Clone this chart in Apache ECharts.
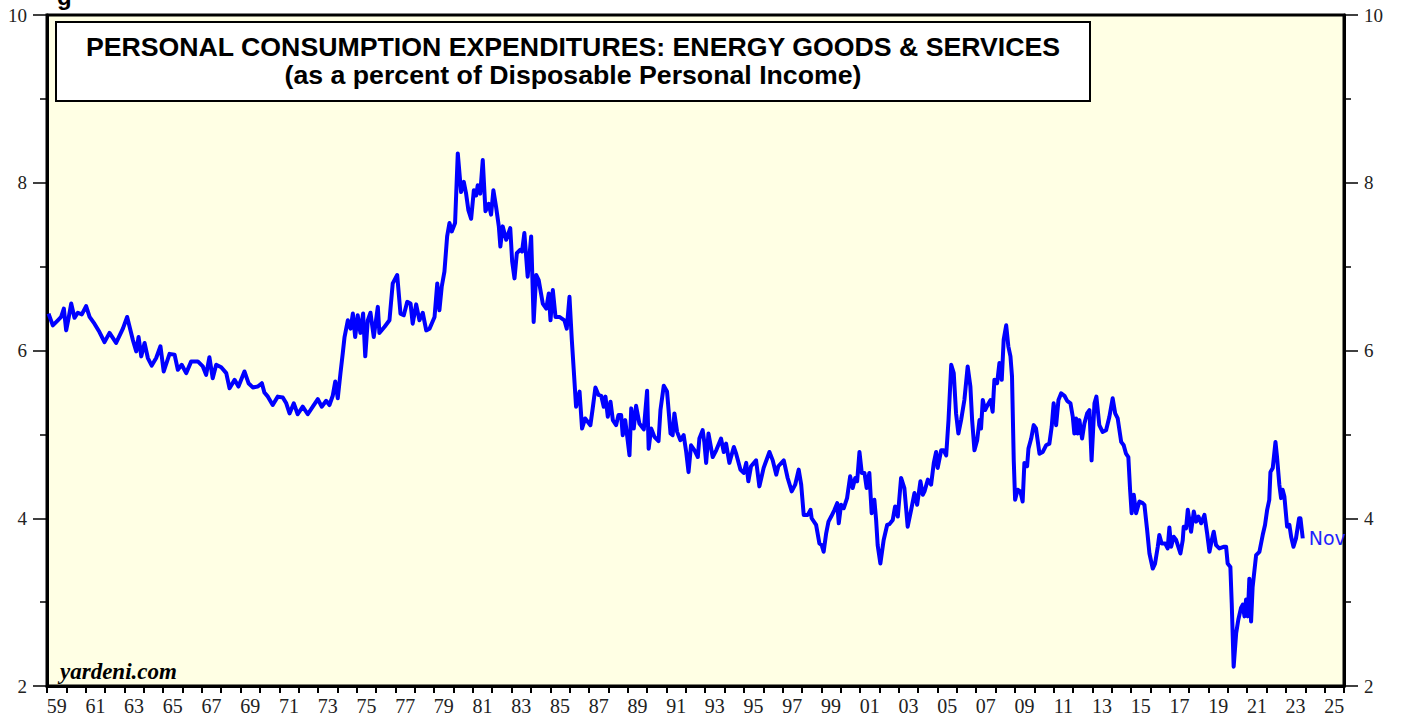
<!DOCTYPE html>
<html>
<head>
<meta charset="utf-8">
<script src="https://cdn.jsdelivr.net/npm/echarts@6/dist/echarts.min.js"></script>
<style>
html,body{margin:0;padding:0;background:#fff;}
#chart{width:1403px;height:717px;}
</style>
</head>
<body>
<div id="chart"></div>
<script>
// x positions in decimal years
const dates = [
1959.08,1959.30,1959.56,1959.73,1959.87,1959.99,1960.11,1960.25,1960.42,1960.59,1960.80,1961.02,1961.20,1961.45,1961.71,1961.97,
1962.23,1962.57,1962.92,1963.14,1963.43,1963.61,1963.73,1963.87,1964.04,1964.21,1964.41,1964.64,1964.86,1965.03,1965.33,1965.59,
1965.76,1965.96,1966.19,1966.45,1966.79,1967.05,1967.22,1967.39,1967.56,1967.74,1968.00,1968.26,1968.43,1968.69,1968.89,1969.20,
1969.41,1969.63,1969.89,1970.10,1970.23,1970.41,1970.66,1970.92,1971.18,1971.36,1971.53,1971.75,1971.95,1972.21,1972.47,1972.73,
1972.99,1973.19,1973.42,1973.59,1973.76,1973.89,1974.02,1974.16,1974.28,1974.37,1974.54,1974.68,1974.80,1974.92,1975.05,1975.19,
1975.33,1975.44,1975.57,1975.71,1975.88,1976.09,1976.17,1976.43,1976.69,1976.86,1977.09,1977.26,1977.43,1977.61,1977.78,1977.89,
1978.07,1978.24,1978.41,1978.59,1978.76,1979.02,1979.16,1979.27,1979.39,1979.53,1979.67,1979.79,1979.91,1980.08,1980.22,1980.39,
1980.53,1980.65,1980.77,1980.91,1981.05,1981.17,1981.25,1981.38,1981.51,1981.65,1981.82,1981.94,1982.06,1982.20,1982.34,1982.42,
1982.54,1982.72,1982.93,1983.03,1983.15,1983.27,1983.44,1983.54,1983.66,1983.83,1984.01,1984.14,1984.27,1984.40,1984.61,1984.79,
1984.92,1985.01,1985.13,1985.27,1985.47,1985.73,1985.85,1985.99,1986.11,1986.21,1986.33,1986.51,1986.64,1986.80,1986.93,1987.07,
1987.19,1987.33,1987.49,1987.63,1987.76,1987.85,1987.97,1988.11,1988.23,1988.40,1988.52,1988.66,1988.74,1988.87,1989.09,1989.18,
1989.31,1989.43,1989.60,1989.83,1990.00,1990.08,1990.21,1990.38,1990.59,1990.69,1990.86,1991.03,1991.21,1991.32,1991.41,1991.55,
1991.72,1991.89,1992.02,1992.14,1992.27,1992.45,1992.62,1992.70,1992.87,1992.96,1993.05,1993.17,1993.39,1993.57,1993.82,1993.96,
1994.08,1994.25,1994.48,1994.60,1994.82,1994.99,1995.12,1995.23,1995.37,1995.63,1995.80,1996.02,1996.32,1996.49,1996.67,1996.78,
1997.06,1997.26,1997.47,1997.65,1997.83,1997.96,1998.09,1998.30,1998.44,1998.50,1998.73,1998.90,1999.02,1999.12,1999.25,1999.37,
1999.51,1999.68,1999.82,1999.90,2000.02,2000.16,2000.33,2000.49,2000.62,2000.75,2000.85,2000.97,2001.09,2001.23,2001.34,2001.48,
2001.60,2001.74,2001.83,2001.91,2002.05,2002.22,2002.40,2002.52,2002.69,2002.81,2002.95,2003.12,2003.29,2003.46,2003.64,2003.81,
2003.95,2004.12,2004.24,2004.33,2004.50,2004.67,2004.81,2004.93,2005.01,2005.19,2005.32,2005.45,2005.57,2005.71,2005.84,2005.96,
2006.08,2006.22,2006.39,2006.56,2006.70,2006.79,2006.91,2007.05,2007.17,2007.25,2007.34,2007.46,2007.59,2007.74,2007.85,2007.94,
2008.08,2008.20,2008.32,2008.42,2008.55,2008.66,2008.77,2008.85,2008.94,2009.01,2009.14,2009.28,2009.40,2009.49,2009.63,2009.70,
2009.84,2009.97,2010.09,2010.27,2010.44,2010.61,2010.78,2010.90,2011.00,2011.13,2011.25,2011.39,2011.56,2011.70,2011.87,2011.99,
2012.07,2012.16,2012.24,2012.33,2012.47,2012.59,2012.73,2012.85,2012.96,2013.11,2013.21,2013.36,2013.53,2013.71,2013.88,2014.05,
2014.18,2014.31,2014.49,2014.62,2014.74,2014.86,2014.95,2015.03,2015.14,2015.26,2015.43,2015.60,2015.69,2015.83,2015.95,2016.12,
2016.24,2016.38,2016.46,2016.58,2016.76,2016.89,2016.98,2017.07,2017.20,2017.33,2017.55,2017.67,2017.72,2017.84,2017.93,2018.01,
2018.10,2018.24,2018.36,2018.48,2018.62,2018.79,2018.93,2019.05,2019.17,2019.27,2019.39,2019.56,2019.78,2019.91,2019.99,2020.13,
2020.20,2020.30,2020.43,2020.54,2020.68,2020.77,2020.86,2020.94,2021.03,2021.11,2021.20,2021.28,2021.46,2021.63,2021.80,2021.92,
2022.03,2022.14,2022.20,2022.32,2022.46,2022.54,2022.66,2022.75,2022.83,2022.92,2023.06,2023.18,2023.27,2023.39,2023.52,2023.68,
2023.75,2023.87
];
// energy PCE as % of disposable personal income
const energyShare = [
6.44,6.30,6.36,6.40,6.50,6.24,6.38,6.56,6.39,6.45,6.43,6.53,6.40,6.32,6.22,6.10,
6.21,6.09,6.26,6.40,6.13,5.99,6.16,5.93,6.09,5.91,5.82,5.91,6.05,5.75,5.96,5.95,
5.77,5.83,5.73,5.87,5.87,5.81,5.71,5.92,5.67,5.83,5.80,5.73,5.55,5.65,5.57,5.75,
5.61,5.56,5.57,5.61,5.50,5.45,5.35,5.45,5.44,5.37,5.25,5.37,5.24,5.33,5.24,5.33,
5.42,5.33,5.40,5.35,5.46,5.63,5.43,5.73,5.97,6.16,6.36,6.26,6.44,6.16,6.42,6.21,
6.44,5.93,6.36,6.45,6.16,6.52,6.21,6.28,6.36,6.80,6.90,6.44,6.42,6.58,6.56,6.32,
6.55,6.36,6.45,6.24,6.26,6.40,6.80,6.48,6.76,6.94,7.36,7.52,7.42,7.52,8.35,7.89,
8.01,7.87,7.67,7.57,7.91,7.85,7.97,7.87,8.27,7.66,7.75,7.62,7.91,7.71,7.48,7.24,
7.48,7.32,7.46,7.06,6.86,7.16,7.20,7.18,7.40,6.88,7.36,6.34,6.90,6.84,6.56,6.50,
6.68,6.36,6.72,6.40,6.40,6.36,6.26,6.64,6.13,5.77,5.33,5.51,5.07,5.19,5.15,5.11,
5.31,5.56,5.47,5.46,5.33,5.45,5.21,5.39,5.17,5.11,5.23,5.23,4.99,5.17,4.75,5.31,
5.07,5.34,5.13,5.06,5.52,4.83,5.07,4.97,4.92,5.29,5.58,5.51,5.01,4.99,5.25,5.03,
4.93,4.99,4.79,4.55,4.87,4.81,4.73,4.95,5.05,4.90,4.66,5.01,4.73,4.81,4.95,4.79,
4.89,4.66,4.85,4.77,4.58,4.54,4.66,4.44,4.62,4.69,4.38,4.60,4.79,4.69,4.52,4.62,
4.69,4.48,4.32,4.40,4.58,4.40,4.04,4.04,4.10,4.00,3.92,3.70,3.68,3.60,3.82,3.96,
4.02,4.10,4.18,3.94,4.16,4.12,4.24,4.50,4.36,4.48,4.44,4.79,4.54,4.54,4.36,4.54,
4.06,4.22,3.98,3.68,3.46,3.74,3.92,3.93,3.98,4.14,4.02,4.48,4.36,3.90,4.10,4.30,
4.16,4.44,4.28,4.32,4.46,4.40,4.66,4.79,4.60,4.81,4.81,4.75,5.17,5.83,5.73,5.25,
5.01,5.17,5.41,5.81,5.57,5.17,4.81,4.93,5.17,5.07,5.41,5.29,5.35,5.41,5.27,5.65,
5.61,5.85,5.65,6.13,6.30,6.05,5.93,5.69,4.69,4.22,4.34,4.32,4.20,4.66,4.62,4.83,
4.95,5.11,5.07,4.77,4.79,4.87,4.89,5.09,5.37,5.11,5.41,5.49,5.46,5.40,5.37,5.21,
5.01,5.19,5.01,5.17,4.95,5.13,5.25,5.29,4.69,5.37,5.45,5.11,5.03,5.05,5.21,5.43,
5.25,5.19,4.91,4.87,4.77,4.73,4.34,4.06,4.28,4.06,4.20,4.18,4.16,3.86,3.58,3.40,
3.46,3.66,3.80,3.70,3.70,3.64,3.89,3.66,3.78,3.74,3.58,3.74,3.90,3.88,4.10,3.98,
3.84,4.08,3.96,4.02,3.94,4.04,3.82,3.60,3.74,3.84,3.68,3.64,3.66,3.66,3.46,3.42,
2.99,2.23,2.63,2.79,2.93,2.97,2.83,3.03,2.83,3.28,2.77,3.18,3.56,3.60,3.80,3.92,
4.10,4.22,4.55,4.60,4.91,4.73,4.40,4.24,4.34,4.26,3.90,3.92,3.78,3.66,3.76,4.00,
4.00,3.76
];
// year categories on the bottom axis (1959 .. 2025)
const yearCats = [];
for (let y = 1959; y <= 2025; y++) yearCats.push(String(y));
const lastLabel = 'Nov';
const titleLine1 = 'PERSONAL CONSUMPTION EXPENDITURES: ENERGY GOODS & SERVICES';
const titleLine2 = '(as a percent of Disposable Personal Income)';
const sourceText = 'yardeni.com';

const seriesData = dates.map((d, i) => [d, energyShare[i]]);

const chart = echarts.init(document.getElementById('chart'), null, {renderer: 'svg'});
const serif = 'Liberation Serif, Times New Roman, serif';
const yAxisBase = {
  type: 'value', min: 2, max: 10, interval: 2,
  axisLine: {show: true, lineStyle: {color: '#000', width: 3}},
  axisTick: {show: true, length: 14, lineStyle: {color: '#000', width: 1.5}},
  minorTick: {show: true, splitNumber: 2, length: 7, lineStyle: {color: '#000', width: 1.5}},
  splitLine: {show: false},
  axisLabel: {color: '#222', fontFamily: serif, fontSize: 19, margin: 20}
};
chart.setOption({
  animation: false,
  backgroundColor: '#fff',
  grid: {left: 47, right: 59, top: 15, bottom: 31, show: true,
         backgroundColor: '#FFFFE4', borderColor: '#000', borderWidth: 3},
  xAxis: [
    {type: 'category', data: yearCats, boundaryGap: true, gridIndex: 0,
     axisLine: {show: true, lineStyle: {color: '#000', width: 3}},
     axisTick: {show: true, interval: 0, length: 7, lineStyle: {color: '#000', width: 2}},
     axisLabel: {interval: 1, color: '#222', fontFamily: serif, fontSize: 20, margin: 10,
                 formatter: v => v.slice(2)},
     splitLine: {show: false}},
    {type: 'value', min: 1959, max: 2026, show: false, gridIndex: 0}
  ],
  yAxis: [
    Object.assign({}, yAxisBase, {position: 'left'}),
    Object.assign({}, yAxisBase, {position: 'right'})
  ],
  series: [{
    type: 'line', xAxisIndex: 1, yAxisIndex: 0, data: seriesData,
    showSymbol: false, symbol: 'none',
    lineStyle: {color: '#0000FF', width: 4, join: 'round'},
    endLabel: {show: true, formatter: lastLabel, color: '#1f1fff', fontSize: 19,
               fontFamily: 'DejaVu Sans, sans-serif', distance: 6}
  }],
  graphic: [
    {type: 'text', left: 57, top: -16, style: {text: 'g', font: 'bold 24px Liberation Sans, Arial', fill: '#000'}},
    {type: 'rect', shape: {x: 56, y: 22, width: 1034, height: 79},
     style: {fill: '#fff', stroke: '#000', lineWidth: 2}, z: 10},
    {type: 'text', x: 573, y: 47, z: 11,
     style: {text: titleLine1, font: 'bold 26.7px Liberation Sans, Arial', fill: '#000',
             textAlign: 'center', textVerticalAlign: 'middle'}},
    {type: 'text', x: 573, y: 75, z: 11,
     style: {text: titleLine2, font: 'bold 26.7px Liberation Sans, Arial', fill: '#000',
             textAlign: 'center', textVerticalAlign: 'middle'}},
    {type: 'text', x: 60, y: 671, z: 11,
     style: {text: sourceText, font: 'italic bold 23px Liberation Serif, Times New Roman', fill: '#000',
             textAlign: 'left', textVerticalAlign: 'middle'}}
  ]
});
</script>
</body>
</html>
